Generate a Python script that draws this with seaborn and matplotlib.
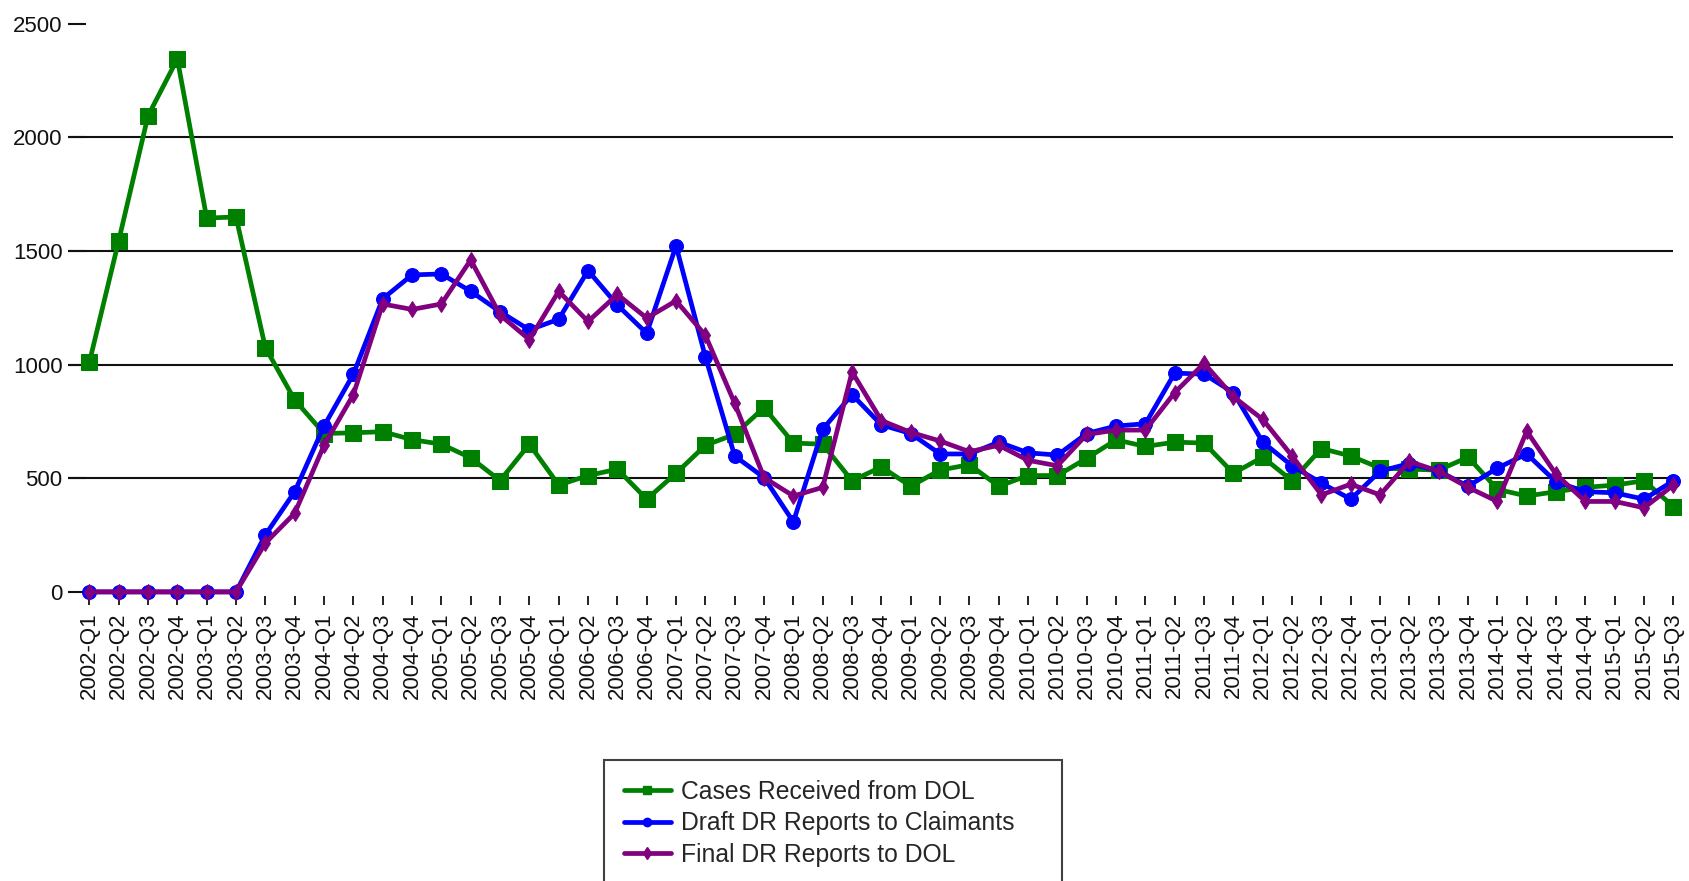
import numpy as np
import pandas as pd
import seaborn as sns
import matplotlib
matplotlib.use("Agg")
import matplotlib.pyplot as plt
from matplotlib.lines import Line2D

quarters = [f"{y}-Q{q}" for y in range(2002, 2016) for q in range(1, 5)][:55]

cases_received = [1010, 1545, 2095, 2345, 1645, 1650, 1075, 845, 697, 700,
                  705, 670, 650, 590, 490, 650, 470, 512, 540, 408,
                  522, 645, 693, 811, 655, 650, 489, 550, 465, 536,
                  560, 465, 512, 512, 588, 669, 640, 659, 655, 522,
                  593, 489, 631, 598, 545, 540, 536, 593, 451, 422,
                  441, 460, 470, 489, 375]
draft_reports = [0, 0, 0, 0, 0, 0, 251, 441, 730, 958,
                 1290, 1395, 1399, 1323, 1233, 1153, 1200, 1414, 1262, 1138,
                 1523, 1034, 598, 503, 308, 716, 868, 735, 697, 607,
                 607, 659, 612, 602, 697, 730, 740, 963, 958, 877,
                 659, 555, 479, 408, 531, 565, 531, 465, 545, 607,
                 484, 441, 436, 408, 489]
final_reports = [0, 0, 0, 0, 0, 0, 215, 346, 645, 868,
                 1267, 1243, 1267, 1461, 1219, 1110, 1323, 1190, 1309, 1205,
                 1281, 1129, 830, 503, 422, 460, 968, 754, 702, 664,
                 617, 645, 579, 555, 693, 712, 712, 877, 1006, 859,
                 759, 598, 427, 474, 427, 574, 531, 460, 398, 707,
                 517, 398, 398, 370, 470]

series_names = ["Cases Received from DOL", "Draft DR Reports to Claimants", "Final DR Reports to DOL"]
colors = ["#008000", "#0000ff", "#800080"]
markers = ["s", "o", "d"]
msizes = [11, 10, 8]

sns.set_theme(style="white")
plt.rcParams["font.family"] = ["Liberation Sans", "DejaVu Sans"]

fig = plt.figure(figsize=(16.9, 8.81), dpi=100)
ax = fig.add_axes([0.0402, 0.323, 0.950, 0.650])

x = np.arange(len(quarters))
for name, vals, c, m, ms in zip(series_names, [cases_received, draft_reports, final_reports], colors, markers, msizes):
    df = pd.DataFrame({"q": x, "v": vals})
    sns.lineplot(data=df, x="q", y="v", ax=ax, color=c, marker=m, markersize=ms,
                 markeredgecolor=c, linewidth=3.4, clip_on=False, zorder=3)

for g in [500, 1000, 1500, 2000]:
    ax.axhline(g, color="#111111", linewidth=1.5, zorder=1)

ax.set_xlim(-0.73, 54)
ax.set_ylim(-20, 2500)
ax.set_yticks([0, 500, 1000, 1500, 2000, 2500])
ax.set_xticks(x)
ax.set_xticklabels(quarters, rotation=90)
ax.set_xlabel("")
ax.set_ylabel("")
for s in ax.spines.values():
    s.set_visible(False)
ax.tick_params(axis="y", direction="in", length=13, width=1.5, pad=4, labelsize=16, color="#111111", labelcolor="#111111", left=True)
ax.tick_params(axis="x", direction="out", length=6.5, width=1.3, pad=5, labelsize=16, color="#111111", labelcolor="#111111", bottom=True)
ax.grid(False)

handles = [Line2D([0], [0], color=c, marker=m, markersize=6, linewidth=3.4) for c, m in zip(colors, markers)]
leg = fig.legend(handles, series_names, loc="upper left",
                 bbox_to_anchor=(604 / 1690, 1 - 761 / 881, (1062 - 604) / 1690, 0.001),
                 mode="expand", fontsize=17.8, frameon=True, fancybox=False,
                 edgecolor="#111111", borderpad=0.8, handlelength=1.9, handletextpad=0.4,
                 labelspacing=0.3, borderaxespad=0)
leg.get_frame().set_linewidth(1.5)

fig.savefig("out.png", dpi=100, facecolor="white")
